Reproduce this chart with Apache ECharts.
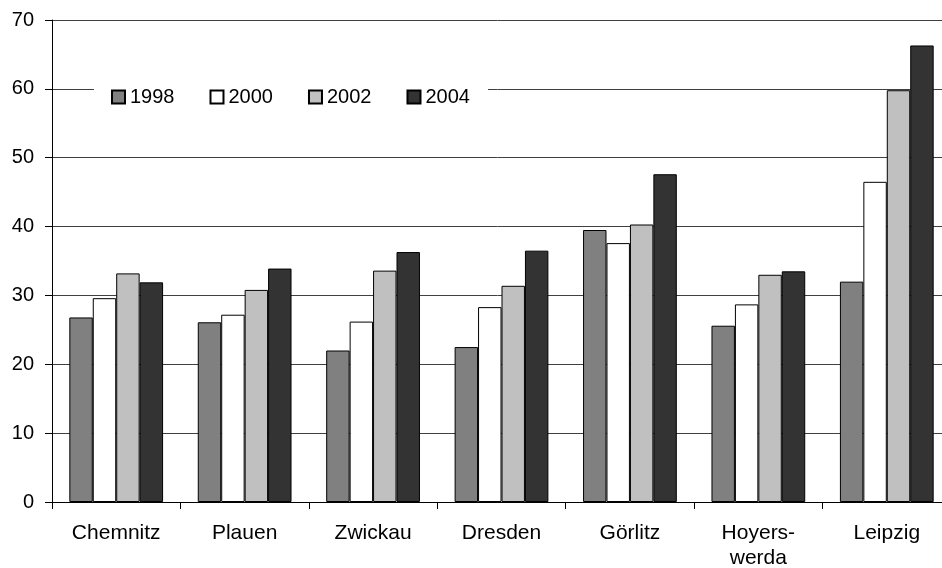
<!DOCTYPE html>
<html>
<head>
<meta charset="utf-8">
<script src="https://cdn.jsdelivr.net/npm/echarts@6/dist/echarts.min.js"></script>
<style>
  html, body { margin: 0; padding: 0; background: #fff; }
  #chart { width: 942px; height: 568px; }
</style>
</head>
<body>
<div id="chart"></div>
<script>
const cities = ['Chemnitz', 'Plauen', 'Zwickau', 'Dresden', 'Görlitz', 'Hoyers-\nwerda', 'Leipzig']
const years = ['1998', '2000', '2002', '2004']
const v1998 = [26.8, 26.1, 22.0, 22.5, 39.5, 25.6, 32.0]
const v2000 = [29.6, 27.2, 26.2, 28.3, 37.6, 28.7, 46.5]
const v2002 = [33.2, 30.8, 33.6, 31.4, 40.3, 33.0, 59.8]
const v2004 = [31.9, 33.9, 36.3, 36.5, 47.6, 33.5, 66.3]
const colors = ['#808080', '#ffffff', '#c0c0c0', '#333333']

const values = [v1998, v2000, v2002, v2004]
const font = 'Liberation Sans, Arial, sans-serif'

const chart = echarts.init(document.getElementById('chart'))
chart.setOption({
  animation: false,
  textStyle: { fontFamily: font },
  // plot runs past the right edge, like the cropped original
  grid: { left: 52, top: 20, width: 899, bottom: 66, outerBoundsMode: 'none', containLabel: false },
  legend: {
    data: years,
    left: 94,
    top: 81,
    backgroundColor: '#fff',
    padding: [6, 18, 6, 17],
    itemWidth: 13,
    itemHeight: 13,
    itemGap: 35,
    icon: 'rect',
    textStyle: { fontSize: 20, color: '#000' },
  },
  xAxis: {
    type: 'category',
    data: cities,
    axisLine: { lineStyle: { color: '#000', width: 1 } },
    axisTick: { show: true, length: 7, lineStyle: { color: '#000' } },
    axisLabel: { fontSize: 21, color: '#000', margin: 19, lineHeight: 25, interval: 0 },
  },
  yAxis: {
    type: 'value',
    min: 0,
    max: 70,
    interval: 10,
    axisLine: { show: true, lineStyle: { color: '#000', width: 1 } },
    axisTick: { show: true, length: 7, lineStyle: { color: '#000' } },
    axisLabel: { fontSize: 20, color: '#000', margin: 18 },
    splitLine: { lineStyle: { color: '#404040', width: 1 } },
  },
  series: years.map((y, i) => {
    return {
      name: y,
      type: 'bar',
      data: values[i],
      barGap: '0%',
      barCategoryGap: '27%',
      itemStyle: { color: colors[i], borderColor: '#000', borderWidth: 1 },
    }
  }),
})
</script>
</body>
</html>
